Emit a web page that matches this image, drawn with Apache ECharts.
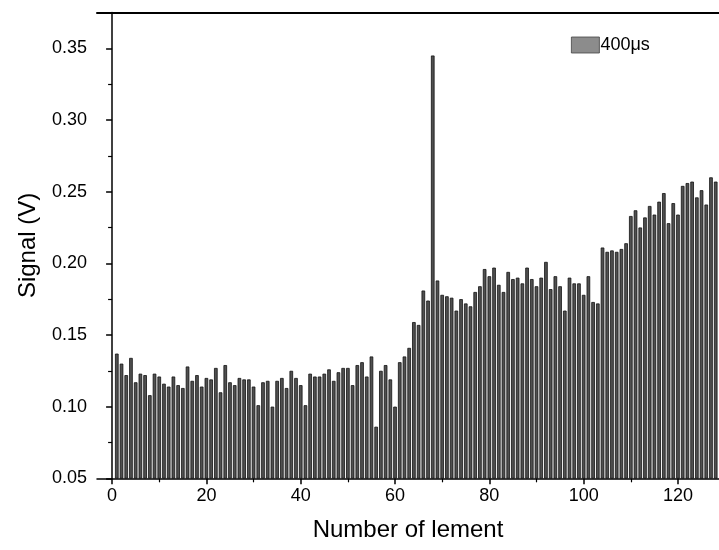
<!DOCTYPE html>
<html><head><meta charset="utf-8">
<script src="https://cdn.jsdelivr.net/npm/echarts@6/dist/echarts.min.js"></script>
<style>html,body{margin:0;padding:0;background:#fff}#c{width:719px;height:550px}</style>
</head><body><div id="c"></div>
<script>
const elements = [1,2,3,4,5,6,7,8,9,10,11,12,13,14,15,16,17,18,19,20,21,22,23,24,25,26,27,28,29,30,31,32,33,34,35,36,37,38,39,40,41,42,43,44,45,46,47,48,49,50,51,52,53,54,55,56,57,58,59,60,61,62,63,64,65,66,67,68,69,70,71,72,73,74,75,76,77,78,79,80,81,82,83,84,85,86,87,88,89,90,91,92,93,94,95,96,97,98,99,100,101,102,103,104,105,106,107,108,109,110,111,112,113,114,115,116,117,118,119,120,121,122,123,124,125,126,127,128];
const signal400 = [
0.137,0.130,0.122,0.134,0.117,0.123,0.122,0.108,0.123,0.121,
0.116,0.114,0.121,0.115,0.113,0.128,0.118,0.122,0.114,0.120,
0.119,0.127,0.110,0.129,0.117,0.115,0.120,0.119,0.119,0.114,
0.101,0.117,0.118,0.100,0.118,0.120,0.113,0.125,0.120,0.115,
0.101,0.123,0.121,0.121,0.123,0.126,0.118,0.124,0.127,0.127,
0.115,0.129,0.131,0.121,0.135,0.086,0.125,0.129,0.119,0.100,
0.131,0.135,0.141,0.159,0.157,0.181,0.174,0.345,0.188,0.178,
0.177,0.176,0.167,0.175,0.172,0.170,0.180,0.184,0.196,0.191,
0.197,0.185,0.180,0.194,0.189,0.190,0.186,0.197,0.189,0.184,
0.190,0.201,0.182,0.191,0.184,0.167,0.190,0.186,0.186,0.178,
0.191,0.173,0.172,0.211,0.208,0.209,0.208,0.210,0.214,0.233,
0.237,0.225,0.232,0.240,0.234,0.243,0.249,0.228,0.242,0.234,
0.254,0.256,0.257,0.246,0.251,0.241,0.260,0.257];
const seriesName = '400\u03bcs';
const xTicks = [0,20,40,60,80,100,120];
const xMinorTicks = [10,30,50,70,90,110];
const yTicks = [0.05,0.10,0.15,0.20,0.25,0.30,0.35];
const yMinorTicks = [0.075,0.125,0.175,0.225,0.275,0.325];

const FONT = 'Liberation Sans, Arial, sans-serif';
const chart = echarts.init(document.getElementById('c'), null, {renderer:'canvas'});
const xMin = -3.2, xMax = 128.7, yMin = 0.05, yMax = 0.375;
const data = elements.map((e,i)=>[e, signal400[i]]);

chart.setOption({
  animation:false,
  backgroundColor:'#fff',
  grid:{left:97, top:12.5, right:0, bottom:71.7, containLabel:false},
  legend:{
    data:[{name:seriesName, itemStyle:{color:'#8c8c8c', borderColor:'#444', borderWidth:0.8}}],
    left:566, top:31, icon:'rect', itemWidth:28, itemHeight:16, itemGap:2,
    textStyle:{fontFamily:FONT, fontSize:18, color:'#000', padding:[0,0,0,-4]}
  },
  xAxis:[
    {type:'value', min:xMin, max:xMax, position:'bottom',
     axisLine:{show:true, lineStyle:{color:'#000', width:1.5}},
     axisTick:{show:true, customValues:xTicks, length:6, inside:false, lineStyle:{color:'#000', width:1.5}},
     axisLabel:{show:true, customValues:xTicks, margin:9, fontFamily:FONT, fontSize:18, color:'#000'},
     splitLine:{show:false},
     name:'Number of lement', nameLocation:'middle', nameGap:40,
     nameTextStyle:{fontFamily:FONT, fontSize:24, color:'#000', verticalAlign:'top'}},
    {type:'value', min:xMin, max:xMax, position:'bottom',
     axisLine:{show:false},
     axisTick:{show:true, customValues:xMinorTicks, length:4, lineStyle:{color:'#000', width:1.2}},
     axisLabel:{show:false}, splitLine:{show:false}},
    {type:'value', min:xMin, max:xMax, position:'top',
     axisLine:{show:true, lineStyle:{color:'#000', width:2}},
     axisTick:{show:false}, axisLabel:{show:false}, splitLine:{show:false}}
  ],
  yAxis:[
    {type:'value', min:yMin, max:yMax, position:'left',
     axisLine:{show:true, lineStyle:{color:'#000', width:1.5}},
     axisTick:{show:true, customValues:yTicks, length:6, inside:false, lineStyle:{color:'#000', width:1.5}},
     axisLabel:{show:true, customValues:yTicks, margin:10, fontFamily:FONT, fontSize:18, color:'#000',
       formatter:v=>v.toFixed(2)},
     splitLine:{show:false},
     name:'Signal (V)', nameLocation:'middle', nameGap:57, nameRotate:90,
     nameTextStyle:{fontFamily:FONT, fontSize:24, color:'#000'}},
    {type:'value', min:yMin, max:yMax, position:'left',
     axisLine:{show:false},
     axisTick:{show:true, customValues:yMinorTicks, length:4, lineStyle:{color:'#000', width:1.2}},
     axisLabel:{show:false}, splitLine:{show:false}}
  ],
  series:[{
    name:seriesName, type:'bar', xAxisIndex:0, yAxisIndex:0,
    data:data, barWidth:3.6, clip:true,
    itemStyle:{color:'#505050', borderColor:'#111', borderWidth:0.8}
  }]
});
</script></body></html>
